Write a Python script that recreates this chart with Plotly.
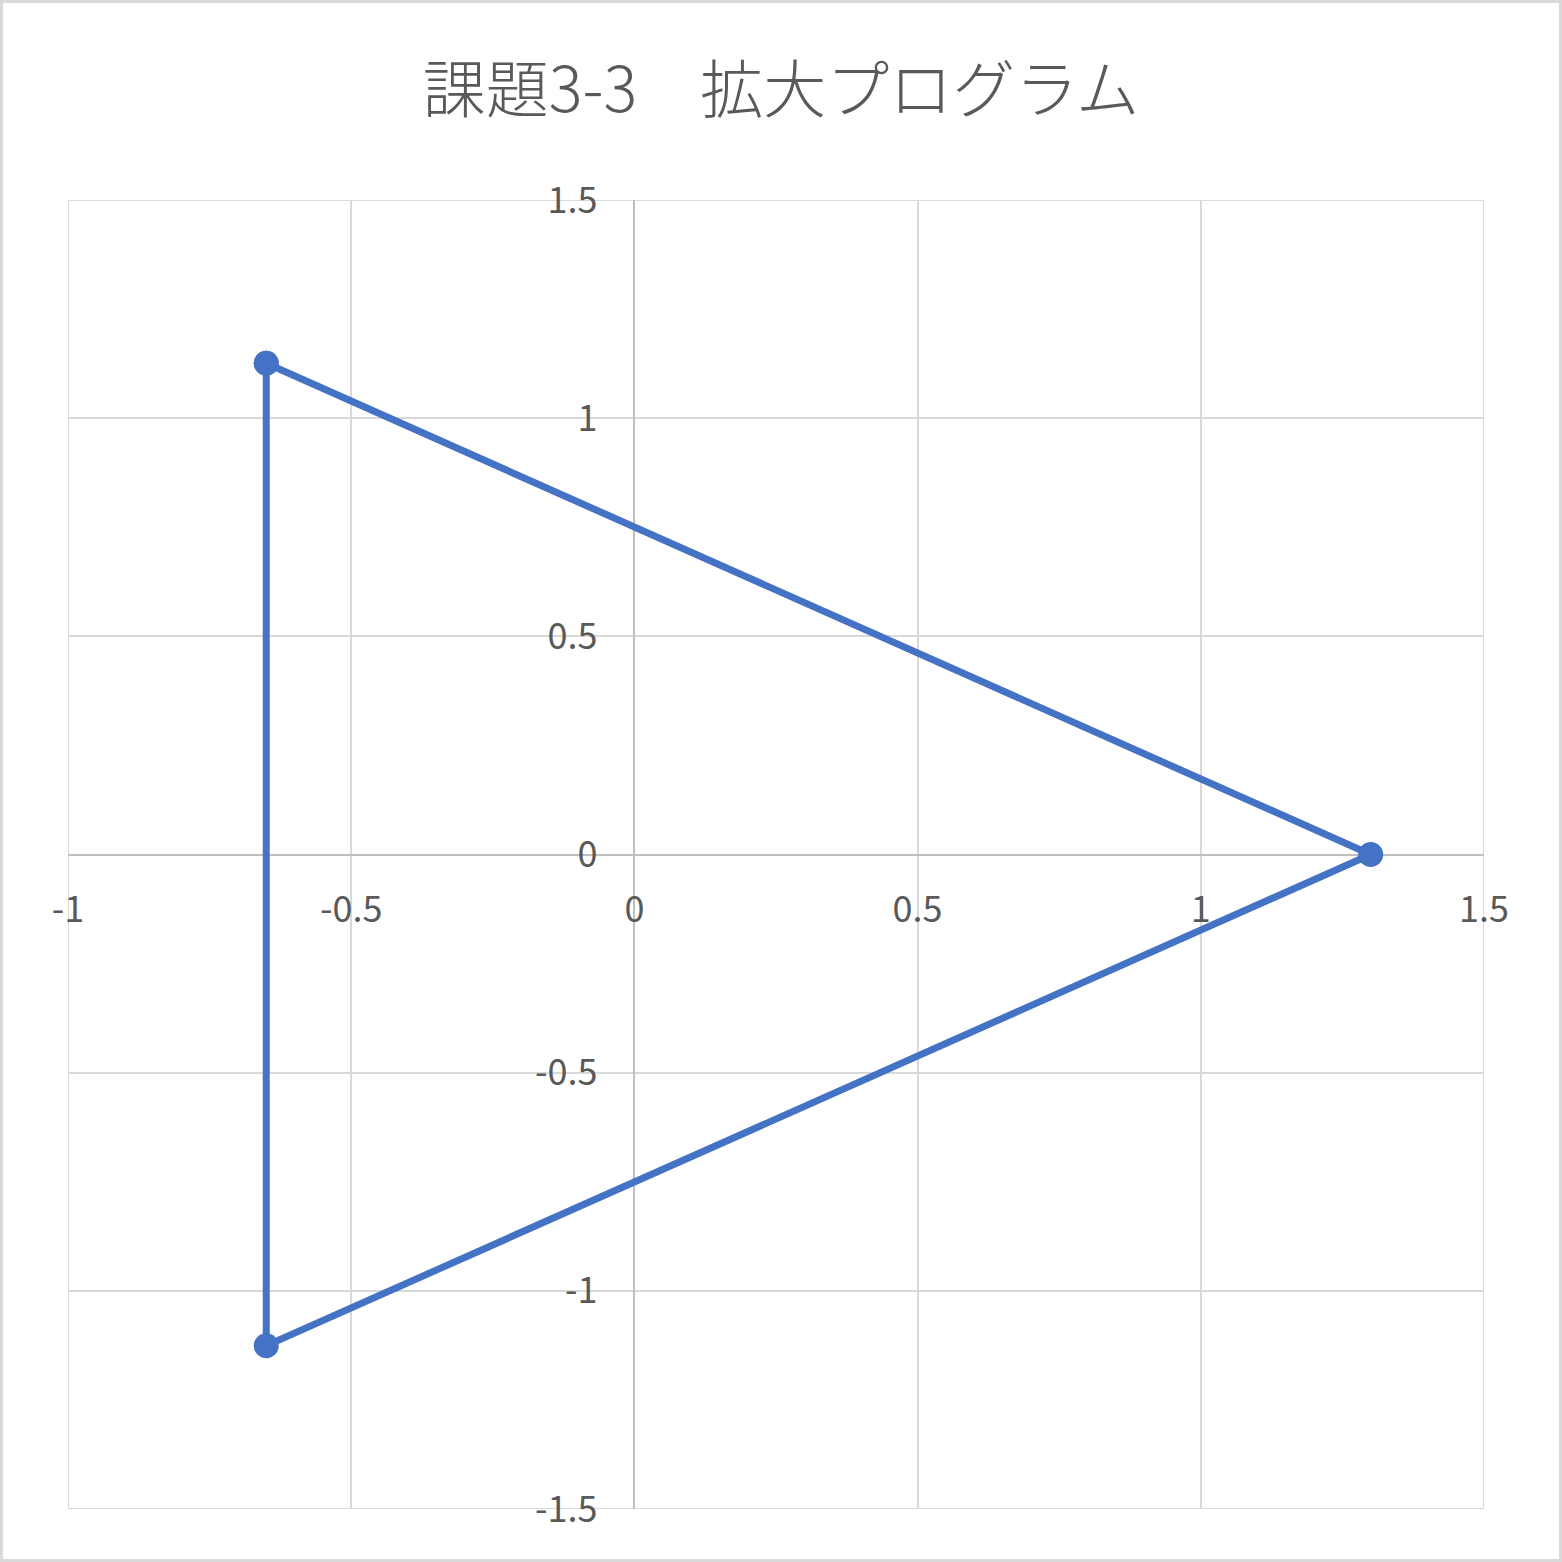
import plotly.graph_objects as go

# Data
xs = [-0.65, 1.3, -0.65, -0.65]
ys = [1.1258, 0.0, -1.1258, 1.1258]
title_text = "課題3-3　拡大プログラム"
x_ticks = [-1, -0.5, 0, 0.5, 1, 1.5]
x_ticklabels = ["-1", "-0.5", "0", "0.5", "1", "1.5"]
y_ticks = [-1.5, -1, -0.5, 0, 0.5, 1, 1.5]
y_ticklabels = ["-1.5", "-1", "-0.5", "0", "0.5", "1", "1.5"]

W, H = 1562, 1562
ml, mr, mt, mb = 68, 78, 200, 53
pw, ph = W - ml - mr, H - mt - mb

fig = go.Figure()
fig.add_trace(go.Scatter(
    x=xs, y=ys, mode="lines+markers",
    line=dict(color="#4472C4", width=7),
    marker=dict(color="#4472C4", size=25),
    showlegend=False, cliponaxis=False,
))

font_family = "Noto Sans CJK JP, Noto Sans, sans-serif"
tickfont = dict(family=font_family, size=36, color="#595959")

fig.update_layout(
    width=W, height=H,
    margin=dict(l=ml, r=mr, t=mt, b=mb),
    paper_bgcolor="white", plot_bgcolor="white",
    title=dict(text=title_text, x=0.5, xref="container", xanchor="center",
               y=1 - 90 / H, yref="container", yanchor="middle",
               font=dict(family=font_family, size=63, color="#595959", weight=300)),
    xaxis=dict(range=[-1, 1.5], tickvals=x_ticks, ticktext=x_ticklabels,
               showgrid=True, gridcolor="#d9d9d9", gridwidth=2,
               zeroline=True, zerolinecolor="#bfbfbf", zerolinewidth=2,
               showline=False, anchor="free", position=0.5,
               ticks="", ticklabelstandoff=30, tickfont=tickfont),
    yaxis=dict(range=[-1.5, 1.5], tickvals=y_ticks, ticktext=y_ticklabels,
               showgrid=True, gridcolor="#d9d9d9", gridwidth=2,
               zeroline=True, zerolinecolor="#bfbfbf", zerolinewidth=2,
               showline=False, anchor="free", position=0.4,
               ticks="", ticklabelstandoff=37, tickfont=tickfont),
)

# plot area border (at axis range edges)
fig.add_shape(type="rect", xref="x", yref="y", x0=-1, x1=1.5, y0=-1.5, y1=1.5,
              line=dict(color="#d9d9d9", width=2), layer="below")
# outer chart border
fig.add_shape(type="rect", xref="paper", yref="paper",
              x0=(1.5 - ml) / pw, x1=(W - 1.5 - ml) / pw,
              y0=(1.5 - mb) / ph, y1=(H - 1.5 - mb) / ph,
              line=dict(color="#d9d9d9", width=3), layer="below")

fig.write_html("out.html", config={"displayModeBar": False},
               post_script="document.body.style.margin='0';document.body.style.padding='0';")
